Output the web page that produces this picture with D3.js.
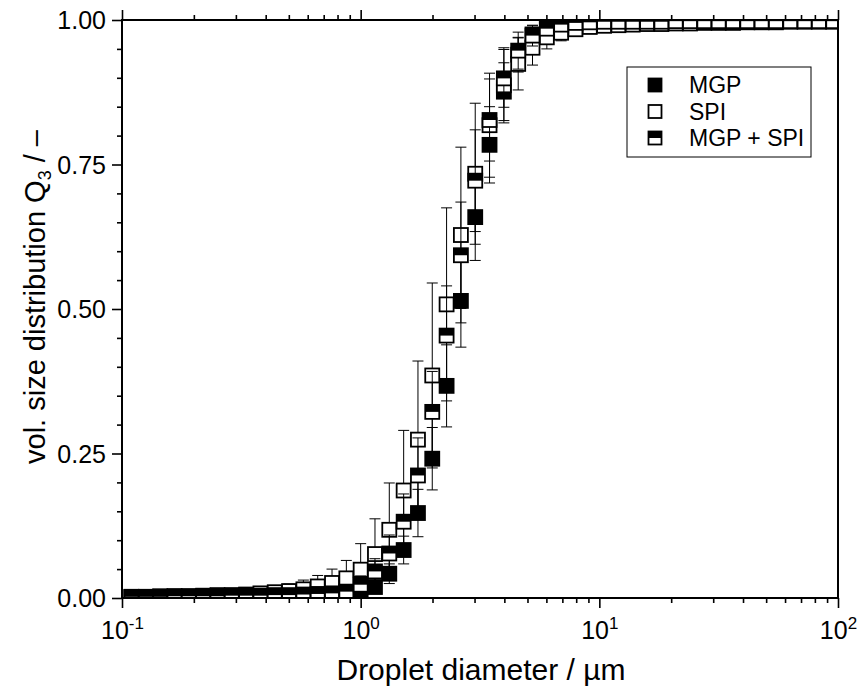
<!DOCTYPE html>
<html>
<head>
<meta charset="utf-8">
<script src="https://cdn.jsdelivr.net/npm/d3@7"></script>
<style>
  body { margin: 0; background: #fff; }
  svg { font-family: "Liberation Sans", Arial, sans-serif; }
</style>
</head>
<body>
<svg id="chart" width="859" height="689"></svg>
<script>
// droplet size classes (µm), log spaced like the laser diffraction bins
const diameters = [0.1096, 0.1259, 0.1445, 0.1660, 0.1905, 0.2188, 0.2512, 0.2884, 0.3311, 0.3802,
  0.4365, 0.5012, 0.5754, 0.6607, 0.7586, 0.8710, 1.000, 1.148, 1.318, 1.514,
  1.738, 1.995, 2.291, 2.630, 3.020, 3.467, 3.981, 4.571, 5.248, 6.026,
  6.918, 7.943, 9.120, 10.47, 12.02, 13.80, 15.85, 18.20, 20.89, 23.99,
  27.54, 31.62, 36.31, 41.69, 47.86, 54.95, 63.10, 72.44, 83.18, 95.50];

// Q3 values
const mgp = [0.001, 0.001, 0.001, 0.001, 0.002, 0.002, 0.002, 0.002, 0.003, 0.003,
  0.003, 0.003, 0.004, 0.004, 0.005, 0.006, 0.009, 0.019, 0.042, 0.083,
  0.147, 0.241, 0.367, 0.514, 0.659, 0.784, 0.876, 0.940, 0.975, 0.990,
  0.997, 0.999, 1.000, 1.000, 1.000, 1.000, 1.000, 1.000, 1.000, 1.000,
  1.000, 1.000, 1.000, 1.000, 1.000, 1.000, 1.000, 1.000, 1.000, 1.000];
const mgpErr = [0.001, 0.001, 0.001, 0.001, 0.001, 0.001, 0.001, 0.001, 0.001, 0.001,
  0.001, 0.001, 0.002, 0.002, 0.003, 0.004, 0.006, 0.011, 0.017, 0.024,
  0.041, 0.054, 0.071, 0.080, 0.075, 0.066, 0.050, 0.030, 0.015, 0.008,
  0.004, 0.002, 0.001, 0.001, 0.001, 0.001, 0.001, 0.001, 0.001, 0.001,
  0.001, 0.001, 0.001, 0.001, 0.001, 0.001, 0.001, 0.001, 0.001, 0.001];

const spi = [0.002, 0.002, 0.003, 0.003, 0.003, 0.004, 0.005, 0.005, 0.006, 0.008,
  0.010, 0.012, 0.015, 0.020, 0.026, 0.034, 0.049, 0.076, 0.118, 0.186,
  0.274, 0.385, 0.508, 0.628, 0.734, 0.818, 0.887, 0.924, 0.952, 0.970,
  0.978, 0.984, 0.988, 0.990, 0.991, 0.992, 0.993, 0.993, 0.994, 0.994,
  0.995, 0.995, 0.995, 0.996, 0.996, 0.996, 0.997, 0.997, 0.997, 0.997];
const spiErr = [0.002, 0.002, 0.002, 0.003, 0.003, 0.003, 0.004, 0.004, 0.005, 0.006,
  0.008, 0.012, 0.016, 0.019, 0.024, 0.031, 0.045, 0.061, 0.081, 0.104,
  0.136, 0.160, 0.167, 0.152, 0.122, 0.090, 0.065, 0.045, 0.030, 0.020,
  0.014, 0.010, 0.008, 0.007, 0.006, 0.006, 0.005, 0.005, 0.005, 0.005,
  0.004, 0.004, 0.004, 0.004, 0.004, 0.003, 0.003, 0.003, 0.003, 0.003];

const mix = [0.002, 0.002, 0.002, 0.003, 0.003, 0.003, 0.003, 0.004, 0.004, 0.004,
  0.005, 0.005, 0.006, 0.007, 0.008, 0.011, 0.023, 0.046, 0.077, 0.132,
  0.212, 0.322, 0.454, 0.593, 0.722, 0.827, 0.899, 0.947, 0.973, 0.985,
  0.992, 0.995, 0.996, 0.997, 0.997, 0.997, 0.997, 0.997, 0.998, 0.998,
  0.998, 0.998, 0.998, 0.998, 0.998, 0.998, 0.998, 0.998, 0.998, 0.998];
const mixErr = [0.001, 0.001, 0.001, 0.001, 0.001, 0.002, 0.002, 0.002, 0.002, 0.002,
  0.003, 0.003, 0.004, 0.005, 0.007, 0.010, 0.015, 0.022, 0.032, 0.048,
  0.065, 0.070, 0.086, 0.092, 0.088, 0.071, 0.050, 0.032, 0.018, 0.010,
  0.006, 0.004, 0.003, 0.003, 0.003, 0.003, 0.003, 0.003, 0.003, 0.003,
  0.003, 0.003, 0.003, 0.003, 0.003, 0.003, 0.003, 0.003, 0.003, 0.003];

const xMajor = [0.1, 1, 10, 100];
const xMajorExp = ['-1', '0', '1', '2'];
const yMajor = [0, 0.25, 0.5, 0.75, 1];
const yMajorLabels = ['0.00', '0.25', '0.50', '0.75', '1.00'];
const seriesNames = ['MGP', 'SPI', 'MGP + SPI'];

const svg = d3.select('#chart');
const x = d3.scaleLog().domain([0.1, 100]).range([122, 838]);
const y = d3.scaleLinear().domain([0, 1]).range([598, 20]);

// minor ticks: 2..9 in each decade, every 0.05 on y
const xMinor = [];
[0.1, 1, 10].forEach(dec => { for (let m = 2; m <= 9; m++) xMinor.push(dec * m); });
const yMinor = d3.range(0.05, 1, 0.05).filter(v => Math.abs(v * 4 - Math.round(v * 4)) > 1e-6);

svg.append('defs').append('clipPath').attr('id', 'plotClip')
  .append('rect').attr('x', 122).attr('y', 20).attr('width', 716).attr('height', 578);

const plot = svg.append('g').attr('clip-path', 'url(#plotClip)');

const series = [
  { name: seriesNames[0], vals: mgp, err: mgpErr, style: 'full' },
  { name: seriesNames[1], vals: spi, err: spiErr, style: 'open' },
  { name: seriesNames[2], vals: mix, err: mixErr, style: 'half' }
];

const S = 14; // marker size
const capW = 11;

function drawMarker(g, cx, cy, style, size) {
  const h = size / 2;
  g.append('rect').attr('x', cx - h).attr('y', cy - h).attr('width', size).attr('height', size)
    .attr('fill', style === 'full' ? '#000' : '#fff');
  if (style === 'half') {
    g.append('rect').attr('x', cx - h).attr('y', cy - h).attr('width', size).attr('height', h)
      .attr('fill', '#000');
  }
  g.append('rect').attr('x', cx - h).attr('y', cy - h).attr('width', size).attr('height', size)
    .attr('fill', 'none').attr('stroke', '#000').attr('stroke-width', 1.8);
}

series.forEach(s => {
  const g = plot.append('g');
  const pts = diameters.map((d, i) => ({ d, v: s.vals[i], e: s.err[i] }));
  // error bars (symmetric)
  const eb = g.selectAll('g.eb').data(pts).enter().append('g')
    .attr('stroke', '#000').attr('stroke-width', 1);
  eb.append('line')
    .attr('x1', p => x(p.d)).attr('x2', p => x(p.d))
    .attr('y1', p => y(p.v - p.e)).attr('y2', p => y(p.v + p.e));
  eb.append('line')
    .attr('x1', p => x(p.d) - capW / 2).attr('x2', p => x(p.d) + capW / 2)
    .attr('y1', p => y(p.v + p.e)).attr('y2', p => y(p.v + p.e));
  eb.append('line')
    .attr('x1', p => x(p.d) - capW / 2).attr('x2', p => x(p.d) + capW / 2)
    .attr('y1', p => y(p.v - p.e)).attr('y2', p => y(p.v - p.e));
  // markers
  pts.forEach(p => drawMarker(g, x(p.d), y(p.v), s.style, S));
});

// axes
function styleAxis(g) {
  g.select('.domain').remove();
  g.selectAll('line').attr('stroke', '#000').attr('stroke-width', 1.6);
}

svg.append('g').attr('transform', 'translate(0,598)')
  .call(d3.axisBottom(x).tickValues(xMinor).tickSize(5).tickFormat(''))
  .call(styleAxis);
const xb = svg.append('g').attr('transform', 'translate(0,598)')
  .call(d3.axisBottom(x).tickValues(xMajor).tickSize(10).tickFormat(''))
  .call(styleAxis);
xb.selectAll('.tick').append('text')
  .attr('y', 41).attr('fill', '#000').attr('text-anchor', 'middle')
  .style('font-size', '25px')
  .each(function (d, i) {
    const t = d3.select(this);
    t.append('tspan').text('10');
    t.append('tspan').attr('dy', -10).style('font-size', '17px').text(xMajorExp[i]);
  });

svg.append('g').attr('transform', 'translate(0,20)')
  .call(d3.axisTop(x).tickValues(xMinor).tickSize(5).tickFormat(''))
  .call(styleAxis);
svg.append('g').attr('transform', 'translate(0,20)')
  .call(d3.axisTop(x).tickValues(xMajor).tickSize(10).tickFormat(''))
  .call(styleAxis);

svg.append('g').attr('transform', 'translate(122,0)')
  .call(d3.axisLeft(y).tickValues(yMinor).tickSize(5).tickFormat(''))
  .call(styleAxis);
const yl = svg.append('g').attr('transform', 'translate(122,0)')
  .call(d3.axisLeft(y).tickValues(yMajor).tickSize(10).tickFormat((d, i) => yMajorLabels[i]))
  .call(styleAxis);
yl.selectAll('text').attr('fill', '#000').style('font-size', '25px').attr('x', -16).attr('dy', '0.35em');

// frame
svg.append('rect').attr('x', 122).attr('y', 20).attr('width', 716).attr('height', 578)
  .attr('fill', 'none').attr('stroke', '#000').attr('stroke-width', 2);

// axis titles
svg.append('text').attr('x', 481).attr('y', 680).attr('text-anchor', 'middle')
  .style('font-size', '30px').text('Droplet diameter / µm');

const yt = svg.append('text').attr('transform', 'translate(45,297) rotate(-90)')
  .attr('text-anchor', 'middle').style('font-size', '29px');
yt.append('tspan').text('vol. size distribution Q');
yt.append('tspan').attr('dy', 6).style('font-size', '18px').text('3');
yt.append('tspan').attr('dy', -6).text(' / –');

// legend
const lg = svg.append('g');
lg.append('rect').attr('x', 627).attr('y', 67).attr('width', 184).attr('height', 90)
  .attr('fill', '#fff').attr('stroke', '#000').attr('stroke-width', 1);
const legendStyles = ['full', 'open', 'half'];
seriesNames.forEach((n, i) => {
  const cy = 85 + i * 26.5;
  drawMarker(lg, 655, cy, legendStyles[i], 13);
  lg.append('text').attr('x', 689).attr('y', cy).attr('dy', '0.35em')
    .style('font-size', '23px').text(n);
});
</script>
</body>
</html>
